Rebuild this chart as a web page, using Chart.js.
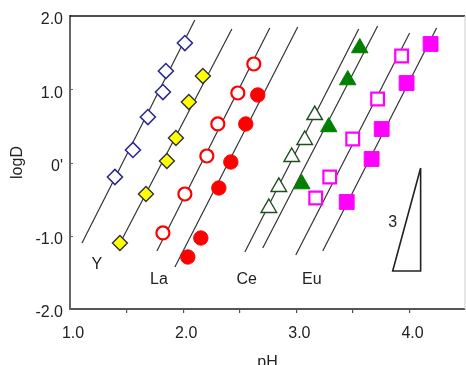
<!DOCTYPE html>
<html>
<head>
<meta charset="utf-8">
<script src="https://cdn.jsdelivr.net/npm/chart.js@4/dist/chart.umd.min.js"></script>
<style>
  html, body { margin: 0; padding: 0; background: #fff; overflow: hidden; }
  #wrap { position: relative; width: 466px; height: 372px; }
</style>
</head>
<body>
<div id="wrap"><canvas id="logdChart"></canvas></div>
<script>
// Y - open diamonds
const yPH   = [2.015, 1.847, 1.821, 1.688, 1.556, 1.397];
const yLogD = [1.631, 1.249, 0.962, 0.621, 0.171, -0.198];
// La - yellow diamonds
const laPH   = [2.174, 2.050, 1.936, 1.856, 1.671, 1.441];
const laLogD = [1.181, 0.826, 0.334, 0.020, -0.430, -1.099];
// Ce - open and filled circles
const ceOpenPH   = [2.624, 2.483, 2.306, 2.209, 2.015, 1.821];
const ceOpenLogD = [1.345, 0.949, 0.526, 0.089, -0.430, -0.962];
const ceFillPH   = [2.659, 2.553, 2.421, 2.315, 2.156, 2.041];
const ceFillLogD = [0.922, 0.526, 0.007, -0.348, -1.031, -1.290];
// Eu - open and filled triangles
const euOpenPH   = [3.162, 3.074, 2.959, 2.845, 2.757];
const euOpenLogD = [0.648, 0.307, 0.075, -0.334, -0.621];
const euFillPH   = [3.560, 3.454, 3.286, 3.048];
const euFillLogD = [1.563, 1.126, 0.485, -0.294];
// magenta squares
const sqOpenPH   = [3.930, 3.718, 3.498, 3.295, 3.171];
const sqOpenLogD = [1.454, 0.867, 0.321, -0.198, -0.485];
const sqFillPH   = [4.186, 3.974, 3.754, 3.665, 3.445];
const sqFillLogD = [1.618, 1.085, 0.457, 0.048, -0.539];

// slope-3 lines: [pH start, pH end] and [logD start, logD end]
const linePH = [
  [1.106, 2.103], [1.424, 2.430], [1.768, 2.765], [1.927, 3.012],
  [2.545, 3.551], [2.703, 3.718], [2.995, 4.001], [3.233, 4.239]
];
const lineLogD = [
  [-1.099, 1.945], [-1.154, 1.823], [-1.208, 1.836], [-1.427, 1.850],
  [-1.222, 1.823], [-1.167, 1.863], [-1.263, 1.768], [-1.208, 1.836]
];

// slope triangle
const triPH   = [4.098, 3.851, 4.098, 4.098];
const triLogD = [-0.075, -1.481, -1.481, -0.075];

// text notes inside the plot
const noteText = ['Y', 'La', 'Ce', 'Eu', '3'];
const notePH   = [1.238, 1.786, 2.562, 3.136, 3.851];
const noteLogD = [-1.399, -1.604, -1.604, -1.604, -0.826];

const xTickValues = [1.0, 1.5, 2.0, 2.5, 3.0, 3.5, 4.0];
const xTickLabels = ['1.0', '', '2.0', '', '3.0', '', '4.0'];
const yTickValues = [-2, -1, 0, 1, 2];
const yTickLabels = ['-2.0', '-1.0', "0'", '1.0', '2.0'];

const FONT = "'Liberation Sans', Arial, sans-serif";

function pts(xs, ys) {
  return xs.map((x, i) => ({ x: x, y: ys[i] }));
}

function markers(xs, ys, style, radius, fill, stroke, width) {
  return {
    data: pts(xs, ys),
    showLine: false,
    pointStyle: style,
    pointRadius: radius,
    pointHoverRadius: radius,
    pointBackgroundColor: fill,
    pointBorderColor: stroke,
    pointBorderWidth: width,
    order: 0
  };
}

const datasets = [
  markers(yPH, yLogD, 'rectRot', 7.5, '#fff', '#2b2b8c', 1.6),
  markers(laPH, laLogD, 'rectRot', 7.5, '#ffff00', '#2f2f45', 1.4),
  markers(ceOpenPH, ceOpenLogD, 'circle', 6.5, '#fff', '#ff0000', 2.2),
  markers(ceFillPH, ceFillLogD, 'circle', 7.2, '#ff0000', '#ff0000', 1),
  markers(euOpenPH, euOpenLogD, 'triangle', 9, '#fff', '#1d4f1d', 1.4),
  markers(euFillPH, euFillLogD, 'triangle', 9.5, '#008000', '#008000', 1),
  markers(sqOpenPH, sqOpenLogD, 'rect', 9, '#fff', '#ff00ff', 2.2),
  markers(sqFillPH, sqFillLogD, 'rect', 10.5, '#ff00ff', '#ff00ff', 1)
];

linePH.forEach((xs, i) => {
  datasets.push({
    data: pts(xs, lineLogD[i]),
    showLine: true,
    borderColor: '#333',
    borderWidth: 1.2,
    pointRadius: 0,
    order: 1
  });
});

datasets.push({
  data: pts(triPH, triLogD),
  showLine: true,
  borderColor: '#222',
  borderWidth: 1.6,
  pointRadius: 0,
  order: 1
});

// frame, inward y ticks and the in-plot notes
const extrasPlugin = {
  id: 'extras',
  afterDatasetsDraw(chart) {
    const ctx = chart.ctx;
    const area = chart.chartArea;
    const xs = chart.scales.x;
    const ys = chart.scales.y;
    ctx.save();
    ctx.strokeStyle = '#111';
    ctx.lineWidth = 1.5;
    ctx.beginPath();
    ctx.moveTo(area.left, area.top);
    ctx.lineTo(area.right, area.top);
    ctx.stroke();
    ctx.strokeStyle = '#ccc';
    ctx.lineWidth = 1;
    ctx.beginPath();
    ctx.moveTo(area.right, area.top);
    ctx.lineTo(area.right, area.bottom);
    ctx.stroke();

    ctx.strokeStyle = '#666';
    ctx.lineWidth = 1;
    [-1, 0, 1].forEach(v => {
      const py = Math.round(ys.getPixelForValue(v)) + 0.5;
      ctx.beginPath();
      ctx.moveTo(area.left, py);
      ctx.lineTo(area.left + 3, py);
      ctx.stroke();
    });

    ctx.fillStyle = '#222';
    ctx.font = '16px ' + FONT;
    ctx.textAlign = 'center';
    ctx.textBaseline = 'middle';
    noteText.forEach((t, i) => {
      ctx.fillText(t, xs.getPixelForValue(notePH[i]), ys.getPixelForValue(noteLogD[i]));
    });
    ctx.restore();
  }
};

const ctx = document.getElementById('logdChart').getContext('2d');
const logdChart = new Chart(ctx, {
  type: 'scatter',
  data: { datasets: datasets },
  options: {
    responsive: true,
    maintainAspectRatio: false,
    animation: false,
    layout: {
      autoPadding: false,
      padding: { top: 16, right: 1, left: 0, bottom: 0 }
    },
    plugins: {
      legend: { display: false },
      tooltip: { enabled: false }
    },
    scales: {
      x: {
        type: 'linear',
        min: 1.0,
        max: 4.49,
        afterBuildTicks(scale) {
          scale.ticks = xTickValues.map(v => ({ value: v }));
        },
        afterFit(scale) {
          scale.height = 63;
          scale.paddingLeft = 0;
          scale.paddingRight = 0;
        },
        ticks: {
          padding: 11,
          labelOffset: 3,
          color: '#222',
          font: { family: FONT, size: 16 },
          maxRotation: 0,
          autoSkip: false,
          callback: (v, i) => xTickLabels[i]
        },
        grid: {
          drawOnChartArea: false,
          drawTicks: true,
          tickLength: 4,
          color: ctx2 => (ctx2.index === 0 ? 'rgba(0,0,0,0)' : '#555'),
          lineWidth: 1.2
        },
        border: { color: '#555', width: 2 },
        title: {
          display: true,
          text: 'pH',
          color: '#222',
          font: { family: FONT, size: 16 },
          padding: { top: 0, bottom: 0 }
        }
      },
      y: {
        type: 'linear',
        min: -2,
        max: 2,
        afterBuildTicks(scale) {
          scale.ticks = yTickValues.map(v => ({ value: v }));
        },
        afterFit(scale) {
          scale.width = 70;
          scale.paddingTop = 0;
          scale.paddingBottom = 0;
        },
        ticks: {
          padding: 7,
          labelOffset: 4,
          color: '#222',
          font: { family: FONT, size: 16 },
          autoSkip: false,
          callback: (v, i) => yTickLabels[i]
        },
        grid: { drawOnChartArea: false, drawTicks: false },
        border: { color: '#666', width: 2 },
        title: {
          display: true,
          text: 'logD',
          color: '#222',
          font: { family: FONT, size: 16 },
          padding: { top: 8, bottom: 0 }
        }
      }
    }
  },
  plugins: [extrasPlugin]
});
</script>
</body>
</html>
